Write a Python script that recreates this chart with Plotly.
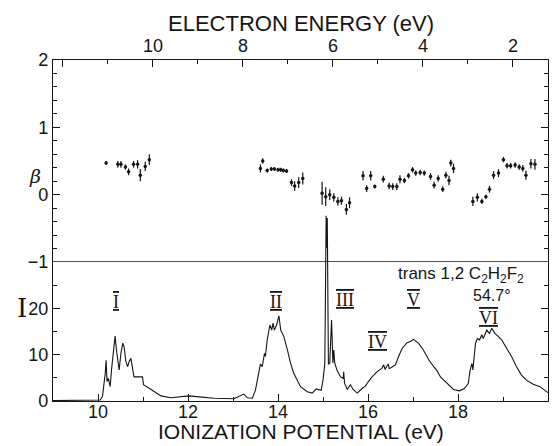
import plotly.graph_objects as go

# He I photon energy links ionization potential and photoelectron energy
PHOTON_EV = 21.22

# Photoelectron spectrum recorded at the magic angle (ionization potential, eV / counts)
scan_ip = [
    9.00, 9.50, 9.90, 10.05, 10.10, 10.13, 10.16, 10.18, 10.20, 10.23, 10.27, 10.30,
    10.35, 10.38, 10.41, 10.44, 10.47, 10.51, 10.55, 10.58, 10.62, 10.66, 10.69, 10.73,
    10.77, 10.80, 10.99, 11.01, 11.18, 11.40, 11.62, 12.02, 12.25, 12.58, 13.02, 13.24,
    13.32, 13.43, 13.50, 13.58, 13.61, 13.65, 13.70, 13.72, 13.76, 13.82, 13.86, 13.89,
    13.92, 13.97, 14.02, 14.06, 14.10, 14.13, 14.21, 14.28, 14.35, 14.50, 14.65, 14.76,
    14.85, 14.91, 14.96, 15.00, 15.04, 15.07, 15.085, 15.095, 15.12, 15.15, 15.19, 15.22,
    15.24, 15.26, 15.31, 15.39, 15.45, 15.46, 15.48, 15.54, 15.61, 15.67, 15.76, 15.87,
    15.94, 16.01, 16.09, 16.20, 16.31, 16.35, 16.38, 16.41, 16.45, 16.47, 16.50, 16.56,
    16.61, 16.68, 16.76, 16.87, 16.95, 17.01, 17.06, 17.12, 17.23, 17.35, 17.46, 17.53,
    17.61, 17.75, 17.90, 18.03, 18.14, 18.23, 18.27, 18.31, 18.33, 18.36, 18.39, 18.43,
    18.48, 18.53, 18.56, 18.64, 18.70, 18.75, 18.82, 18.90, 18.97, 19.08, 19.19, 19.30,
    19.41, 19.52, 19.67, 19.82, 20.00,
]
scan_counts = [
    0.1, 0.1, 0.1, 0.2, 1.0, 3.1, 5.9, 8.8, 4.2, 4.9, 3.1, 6.7,
    11.7, 14.0, 11.0, 8.5, 6.7, 10.3, 12.5, 11.7, 8.5, 7.4, 8.5, 9.2,
    6.7, 5.2, 5.2, 3.5, 2.5, 1.1, 0.7, 1.1, 0.9, 0.6, 0.5, 1.5,
    0.7, 0.6, 2.4, 6.0, 8.0, 7.4, 10.3, 9.6, 13.2, 16.4, 15.3, 16.8,
    15.3, 16.4, 18.4, 15.3, 14.6, 13.9, 11.0, 8.1, 6.0, 3.1, 2.0, 1.7,
    2.6, 2.5, 2.3, 4.5, 8.0, 40.0, 33.0, 39.5, 8.0, 8.1, 17.5, 8.2,
    11.0, 8.2, 6.7, 5.2, 4.9, 6.3, 3.8, 2.5, 3.5, 2.5, 1.7, 2.7,
    3.2, 4.2, 5.2, 6.3, 7.1, 7.8, 6.8, 7.4, 8.0, 7.0, 7.1, 7.5,
    7.8, 9.6, 11.4, 12.6, 12.9, 13.3, 12.9, 12.5, 11.0, 8.9, 7.4, 6.6,
    5.2, 3.8, 2.5, 2.2, 2.7, 3.8, 6.7, 8.1, 6.7, 9.6, 12.5, 13.5,
    13.2, 14.3, 13.5, 15.3, 14.6, 15.7, 14.6, 13.9, 13.2, 11.4, 9.6, 7.4,
    5.6, 4.5, 3.6, 3.1, 1.8,
]

# Asymmetry parameter beta with its uncertainty
beta_ip = [
    10.18, 10.44, 10.51, 10.61, 10.68, 10.79, 10.88, 10.94, 11.05, 11.14,
    13.61, 13.66, 13.76, 13.85, 13.92, 14.00, 14.06, 14.12, 14.19, 14.30, 14.37, 14.46, 14.55,
    14.98, 15.06, 15.15, 15.24, 15.33, 15.41, 15.52, 15.59,
    15.89, 15.97, 16.06, 16.15, 16.34, 16.47, 16.55, 16.64, 16.71, 16.81, 16.90, 16.99,
    17.06, 17.16, 17.25, 17.39, 17.47, 17.56, 17.66, 17.73, 17.80, 17.84, 17.90,
    18.33, 18.43, 18.53, 18.62, 18.70, 18.79, 18.90, 19.01, 19.09, 19.17, 19.27, 19.36,
    19.44, 19.51, 19.62, 19.71,
]
beta_val = [
    0.47, 0.45, 0.45, 0.41, 0.34, 0.45, 0.45, 0.29, 0.42, 0.52,
    0.39, 0.50, 0.36, 0.38, 0.38, 0.37, 0.37, 0.36, 0.35, 0.18, 0.13, 0.18, 0.24,
    0.02, -0.03, 0.00, -0.04, -0.10, -0.09, -0.22, -0.12,
    0.28, 0.09, 0.28, 0.12, 0.23, 0.13, 0.12, 0.12, 0.23, 0.21, 0.28, 0.37,
    0.32, 0.33, 0.32, 0.27, 0.14, 0.24, 0.08, 0.29, 0.21, 0.47, 0.39,
    -0.10, -0.04, -0.10, -0.03, 0.08, 0.29, 0.32, 0.52, 0.43, 0.43, 0.44, 0.41,
    0.39, 0.29, 0.46, 0.45,
]
beta_err = [
    0.03, 0.05, 0.05, 0.04, 0.05, 0.05, 0.06, 0.09, 0.07, 0.08,
    0.06, 0.04, 0.03, 0.03, 0.03, 0.03, 0.03, 0.03, 0.03, 0.05, 0.07, 0.08, 0.09,
    0.17, 0.14, 0.08, 0.06, 0.06, 0.06, 0.08, 0.08,
    0.07, 0.05, 0.07, 0.03, 0.05, 0.05, 0.05, 0.05, 0.06, 0.04, 0.04, 0.04,
    0.04, 0.04, 0.04, 0.05, 0.05, 0.05, 0.04, 0.05, 0.07, 0.05, 0.07,
    0.07, 0.06, 0.04, 0.03, 0.05, 0.06, 0.06, 0.04, 0.04, 0.04, 0.04, 0.04,
    0.05, 0.07, 0.07, 0.08,
]

# Band labels
band_names = ["I", "II", "III", "IV", "V", "VI"]
band_ip = [10.40, 13.95, 15.48, 16.21, 17.01, 18.67]
band_level = [21.4, 21.4, 21.8, 12.7, 21.8, 17.9]

INK = "#151515"
SANS = "Liberation Sans"
SERIF = "Liberation Serif"

# Lower panel holds counts 0..30, upper panel beta -1..2
split = 139 / 341
counts_top = 30 / split

fig = go.Figure()

fig.add_trace(go.Scatter(
    x=scan_ip, y=scan_counts, mode="lines",
    line=dict(color=INK, width=1.1),
    xaxis="x", yaxis="y", hoverinfo="skip", showlegend=False,
))
fig.add_trace(go.Scatter(
    x=scan_ip, y=scan_counts, mode="lines", opacity=0,
    xaxis="x", yaxis="y2", hoverinfo="skip", showlegend=False,
))
fig.add_trace(go.Scatter(
    x=beta_ip, y=beta_val, mode="markers",
    marker=dict(size=3.5, color=INK),
    error_y=dict(type="data", array=beta_err, thickness=1.2, width=0, color=INK),
    xaxis="x", yaxis="y3", hoverinfo="skip", showlegend=False,
))
fig.add_trace(go.Scatter(
    x=[PHOTON_EV - v for v in beta_ip], y=beta_val, mode="markers", opacity=0,
    xaxis="x2", yaxis="y3", hoverinfo="skip", showlegend=False,
))

common = dict(showgrid=False, zeroline=False, linecolor=INK, linewidth=1.3,
              tickcolor=INK, tickwidth=1.4, ticklen=7, ticks="inside",
              tickmode="linear", tick0=0, showline=True, automargin=False,
              tickfont=dict(size=18), fixedrange=True)
minor_common = dict(tickmode="linear", tick0=0, ticks="inside", ticklen=4,
                    tickcolor=INK, tickwidth=1.2, showgrid=False)

fig.update_layout(
    width=557, height=446,
    margin=dict(l=53, r=9, t=60, b=45),
    paper_bgcolor="white", plot_bgcolor="rgba(0,0,0,0)",
    font=dict(family=SANS, color=INK),
    xaxis=dict(
        domain=[0, 1], range=[9, 20], anchor="y2", dtick=2,
        ticklabelstandoff=-6,
        minor=dict(dtick=1, **minor_common),
        **common,
    ),
    xaxis2=dict(
        overlaying="x", side="top", anchor="y3",
        range=[PHOTON_EV - 9, PHOTON_EV - 20], dtick=2,
        labelalias={"12": ""},
        minor=dict(dtick=1, **minor_common),
        **common,
    ),
    yaxis=dict(domain=[0, 1], range=[0, counts_top], visible=False, fixedrange=True),
    yaxis2=dict(
        domain=[0, split], range=[0, 30], anchor="x", dtick=10,
        labelalias={"30": ""}, mirror="ticks",
        minor=dict(dtick=5, **minor_common),
        **common,
    ),
    yaxis3=dict(
        domain=[split, 1], range=[-1, 2], anchor="x", dtick=1, mirror="ticks",
        minor=dict(dtick=0.2, **minor_common),
        **common,
    ),
)

# Divider between the beta and intensity panels
fig.add_shape(type="line", xref="paper", yref="y3", x0=0, x1=1, y0=-1, y1=-1,
              line=dict(color=INK, width=1.3))

# Axis titles
fig.add_annotation(x=0.5, y=1.1085, xref="paper", yref="paper", xanchor="center",
                   yanchor="middle", text="ELECTRON ENERGY (eV)", showarrow=False,
                   font=dict(size=22, color=INK))
fig.add_annotation(x=0.5, y=-0.089, xref="paper", yref="paper", xanchor="center",
                   yanchor="middle", text="IONIZATION POTENTIAL (eV)", showarrow=False,
                   font=dict(size=21, color=INK))

# Band numerals drawn with bars above and below, as in roman-numeral lettering
for name, xv, yv in zip(band_names, band_ip, band_level):
    fig.add_annotation(
        x=xv, y=yv, xref="x", yref="y",
        text=f'<span style="text-decoration:underline overline">{name}</span>',
        showarrow=False, font=dict(family=SERIF, size=18, color=INK))

fig.add_annotation(x=18.07, y=27.2, xref="x", yref="y",
                   text="trans 1,2 C<sub>2</sub>H<sub>2</sub>F<sub>2</sub>",
                   showarrow=False, font=dict(size=17, color=INK))
fig.add_annotation(x=18.76, y=22.7, xref="x", yref="y", text="54.7°",
                   showarrow=False, font=dict(size=16, color=INK))

# Panel labels
fig.add_annotation(x=-0.0525, y=0.698, xref="paper", yref="paper", text="<i>β</i>",
                   showarrow=False, font=dict(family="DejaVu Serif", size=19, color=INK))
fig.add_annotation(x=-0.077, y=0.223, xref="paper", yref="paper", text="I",
                   showarrow=False, font=dict(family="DejaVu Serif", size=26, color=INK))

fig.write_html("out.html")
